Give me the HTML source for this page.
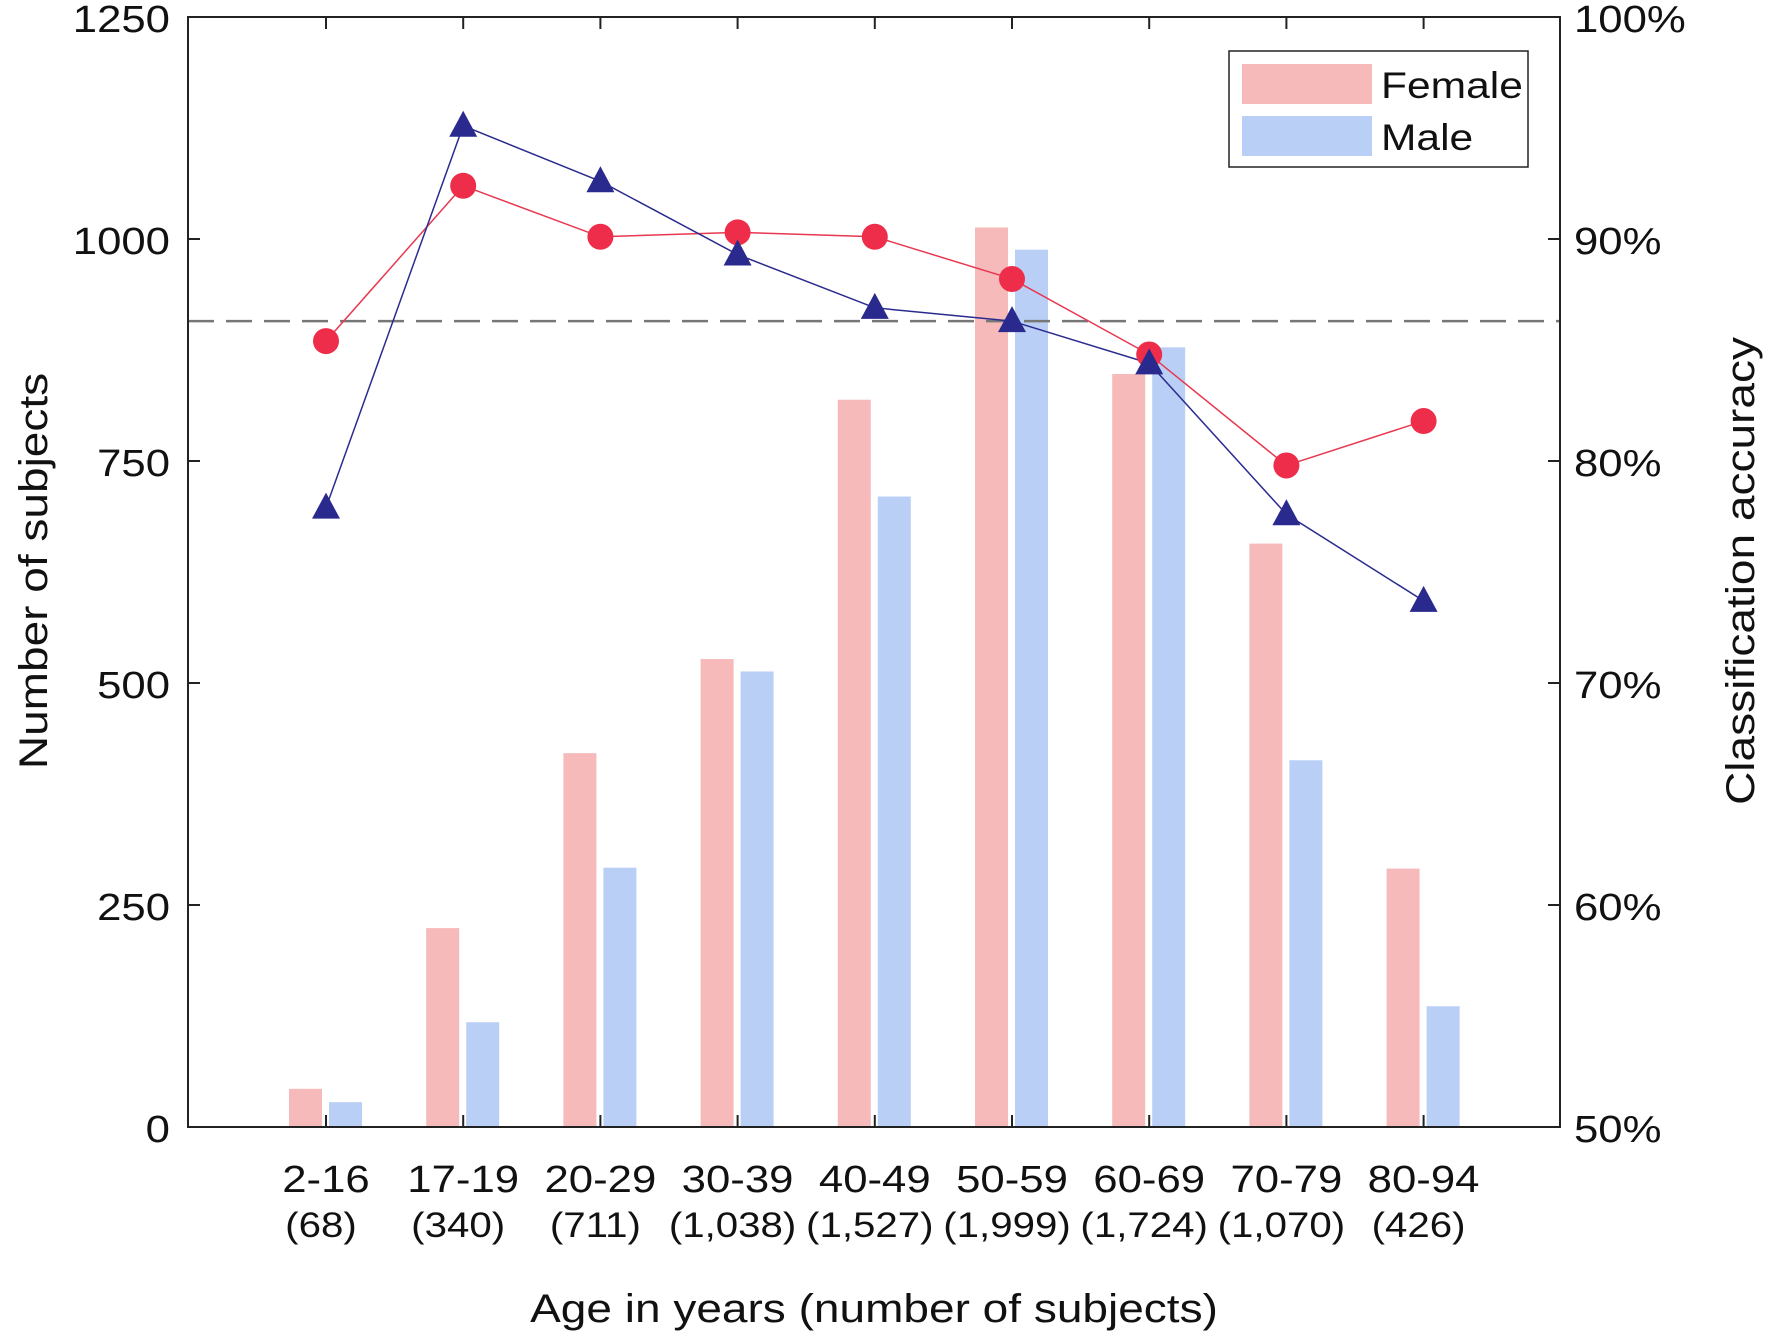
<!DOCTYPE html>
<html><head><meta charset="utf-8"><style>
html,body{margin:0;padding:0;background:#fff}
svg{display:block;font-family:"Liberation Sans",Arial,sans-serif}
</style></head><body>
<svg id="chart" width="1772" height="1336" viewBox="0 0 1772 1336"></svg>
<script>
const categories=["2-16","17-19","20-29","30-39","40-49","50-59","60-69","70-79","80-94"];
const counts=["(68)","(340)","(711)","(1,038)","(1,527)","(1,999)","(1,724)","(1,070)","(426)"];
const femaleCounts=[43,224,421,527,819,1013,848,657,291];
const maleCounts=[28,118,292,513,710,988,878,413,136];
const femaleAcc=[85.4,92.4,90.1,90.3,90.1,88.2,84.8,79.8,81.8];
const maleAcc=[77.9,95.1,92.6,89.3,86.9,86.3,84.4,77.6,73.7];
const overallAcc=86.3;
const leftTicks=[0,250,500,750,1000,1250];
const rightTicks=[50,60,70,80,90,100];

const svg=document.getElementById('chart');
const NS='http://www.w3.org/2000/svg';
const L=188,R=1560,T=17,B=1127;
const yL=v=>B-(v/1250)*(B-T);
const yR=v=>B-((v-50)/50)*(B-T);
const xC=i=>326+i*137.2;
const stretched=[];
function mk(tag,attrs,parent){const e=document.createElementNS(NS,tag);for(const k in attrs)e.setAttribute(k,attrs[k]);(parent||svg).appendChild(e);if(tag==='text')stretched.push(e);return e;}

categories.forEach((c,i)=>{
 let b=mk('rect',{x:xC(i)-37,y:yL(femaleCounts[i]),width:33,height:B-yL(femaleCounts[i]),fill:'#f7baba'});
 
 
 let m=mk('rect',{x:xC(i)+3,y:yL(maleCounts[i]),width:33,height:B-yL(maleCounts[i]),fill:'#bacff5'});
 
 
});
let d=mk('line',{x1:L,x2:R,y1:yR(overallAcc),y2:yR(overallAcc),stroke:'#777','stroke-width':2.5,'stroke-dasharray':'26,12'});


let fp=mk('polyline',{points:femaleAcc.map((v,i)=>xC(i)+','+yR(v)).join(' '),fill:'none',stroke:'#e8384f','stroke-width':1.5});


let mp=mk('polyline',{points:maleAcc.map((v,i)=>xC(i)+','+yR(v)).join(' '),fill:'none',stroke:'#2b2b8f','stroke-width':1.5});


femaleAcc.forEach((v,i)=>{
 let c=mk('circle',{cx:xC(i),cy:yR(v),r:13,fill:'#ee2d4a'});
 
 
});
maleAcc.forEach((v,i)=>{
 const x=xC(i),y=yR(v);
 let t=mk('polygon',{points:`${x},${y-15} ${x-14},${y+11} ${x+14},${y+11}`,fill:'#2a2a8e'});
 
 
});
let ax=mk('rect',{x:L,y:T,width:R-L,height:B-T,fill:'none',stroke:'#222','stroke-width':2});


categories.forEach((c,i)=>{
 mk('line',{x1:xC(i),x2:xC(i),y1:B,y2:B-12,stroke:'#222','stroke-width':2});
 mk('line',{x1:xC(i),x2:xC(i),y1:T,y2:T+12,stroke:'#222','stroke-width':2});
 let t1=mk('text',{x:xC(i),y:1192,'text-anchor':'middle','font-size':38,fill:'#111'});t1.textContent=c;
 
 
 let t2=mk('text',{x:xC(i)-5,y:1237,'text-anchor':'middle','font-size':35,fill:'#111'});t2.textContent=counts[i];
 
 
});
leftTicks.forEach(v=>{
 mk('line',{x1:L,x2:L+12,y1:yL(v),y2:yL(v),stroke:'#222','stroke-width':2});
 let t=mk('text',{x:170,y:yL(v)+15,'text-anchor':'end','font-size':38,fill:'#111'});t.textContent=v;
 
 
});
rightTicks.forEach(v=>{
 mk('line',{x1:R-12,x2:R,y1:yR(v),y2:yR(v),stroke:'#222','stroke-width':2});
 let t=mk('text',{x:1574,y:yR(v)+15,'text-anchor':'start','font-size':38,fill:'#111'});t.textContent=v+'%';
 
 
});
let xt=mk('text',{x:874,y:1322,'text-anchor':'middle','font-size':40,fill:'#111'});xt.textContent='Age in years (number of subjects)';


let yt=mk('text',{x:0,y:0,'text-anchor':'middle','font-size':40,fill:'#111',transform:'translate(47,571) rotate(-90)'});yt.textContent='Number of subjects';


let yt2=mk('text',{x:0,y:0,'text-anchor':'middle','font-size':40,fill:'#111',transform:'translate(1754,571) rotate(-90)'});yt2.textContent='Classification accuracy';


let lg=mk('g',{});


mk('rect',{x:1229,y:51,width:299,height:116,fill:'#fff',stroke:'#222','stroke-width':1.5},lg);
mk('rect',{x:1242,y:64,width:130,height:40,fill:'#f7baba'},lg);
mk('rect',{x:1242,y:116,width:130,height:40,fill:'#bacff5'},lg);
let l1=mk('text',{x:1381,y:98,'font-size':37,fill:'#111'},lg);l1.textContent='Female';


let l2=mk('text',{x:1381,y:150,'font-size':37,fill:'#111'},lg);l2.textContent='Male';


// horizontal stretch to match the reference's wider glyphs
stretched.forEach(t=>{
 const w=t.getComputedTextLength();
 t.setAttribute('textLength',(w*1.15).toFixed(1));
 t.setAttribute('lengthAdjust','spacingAndGlyphs');
});
</script>
</body></html>
